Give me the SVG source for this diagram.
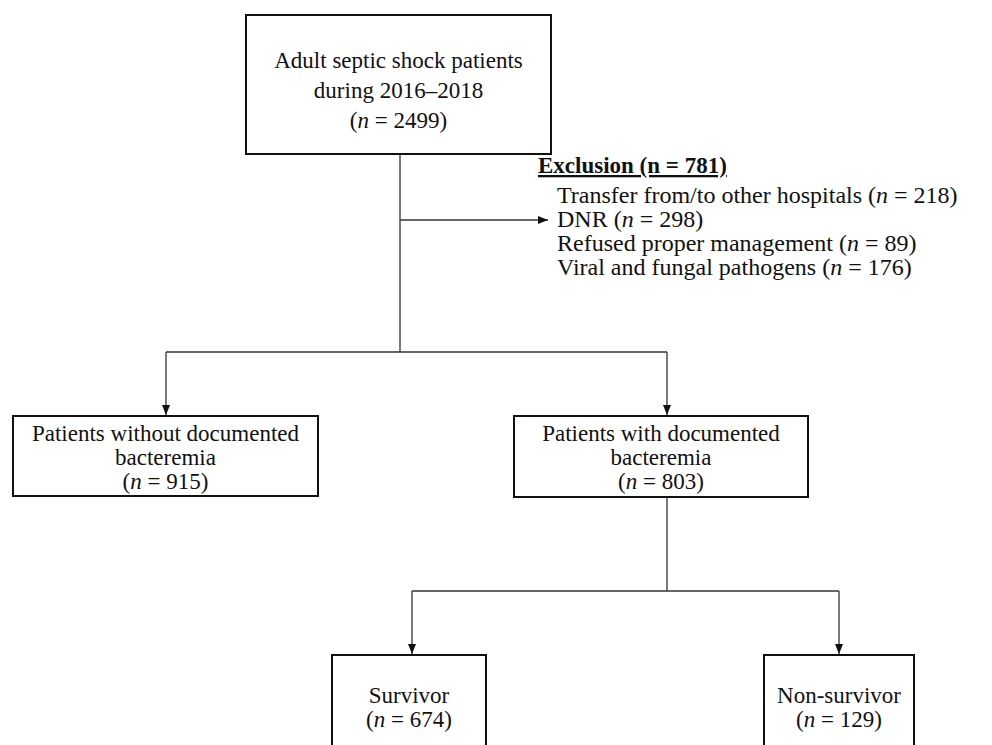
<svg xmlns="http://www.w3.org/2000/svg" width="992" height="745" viewBox="0 0 992 745">
<defs>
<style>
.box{fill:#fff;stroke:#111;stroke-width:2}
.t{font-family:"Liberation Serif","Times New Roman",serif;font-size:23px;fill:#111}
.c{text-anchor:middle}
.ln{fill:none;stroke:#333;stroke-width:1.3}
</style>
<marker id="ah" viewBox="0 0 10 10" refX="10" refY="5" markerWidth="10" markerHeight="10" markerUnits="userSpaceOnUse" orient="auto">
<path d="M0,1 L10,5 L0,9 Z" fill="#111"/>
</marker>
</defs>
<rect width="992" height="745" fill="#fff"/>
<g id="connectors">
<path class="ln" d="M400,155 V352"/>
<path class="ln" d="M400,220 H548" marker-end="url(#ah)"/>
<path class="ln" d="M166,352 H667"/>
<path class="ln" d="M166,352 V415" marker-end="url(#ah)"/>
<path class="ln" d="M667,352 V415" marker-end="url(#ah)"/>
<path class="ln" d="M667,497 V591"/>
<path class="ln" d="M412,591 H839"/>
<path class="ln" d="M412,591 V654" marker-end="url(#ah)"/>
<path class="ln" d="M839,591 V654" marker-end="url(#ah)"/>
</g>
<g id="n-top">
<rect class="box" x="246" y="15" width="305" height="139"/>
<text class="t c" x="398.5" y="68">Adult septic shock patients</text>
<text class="t c" x="398.5" y="98">during 2016–2018</text>
<text class="t c" x="398.5" y="128">(<tspan font-style="italic">n</tspan> = 2499)</text>
</g>
<g id="n-exclusion">
<text class="t" x="538" y="173" font-weight="bold" text-decoration="underline">Exclusion (n = 781)</text>
<text class="t" x="557" y="203" style="font-size:24px">Transfer from/to other hospitals (<tspan font-style="italic">n</tspan> = 218)</text>
<text class="t" x="557" y="227" style="font-size:24px">DNR (<tspan font-style="italic">n</tspan> = 298)</text>
<text class="t" x="557" y="251" style="font-size:24px">Refused proper management (<tspan font-style="italic">n</tspan> = 89)</text>
<text class="t" x="557" y="275" style="font-size:24px">Viral and fungal pathogens (<tspan font-style="italic">n</tspan> = 176)</text>
</g>
<g id="n-without">
<rect class="box" x="13" y="416" width="305" height="80"/>
<text class="t c" x="165.5" y="441">Patients without documented</text>
<text class="t c" x="165.5" y="465">bacteremia</text>
<text class="t c" x="165.5" y="489">(<tspan font-style="italic">n</tspan> = 915)</text>
</g>
<g id="n-with">
<rect class="box" x="514" y="416" width="294" height="81"/>
<text class="t c" x="661" y="441">Patients with documented</text>
<text class="t c" x="661" y="465">bacteremia</text>
<text class="t c" x="661" y="489">(<tspan font-style="italic">n</tspan> = 803)</text>
</g>
<g id="n-survivor">
<rect class="box" x="332" y="655" width="154" height="110"/>
<text class="t c" x="409" y="703">Survivor</text>
<text class="t c" x="409" y="727">(<tspan font-style="italic">n</tspan> = 674)</text>
</g>
<g id="n-nonsurvivor">
<rect class="box" x="764" y="655" width="150" height="110"/>
<text class="t c" x="839" y="703">Non-survivor</text>
<text class="t c" x="839" y="727">(<tspan font-style="italic">n</tspan> = 129)</text>
</g>
</svg>
